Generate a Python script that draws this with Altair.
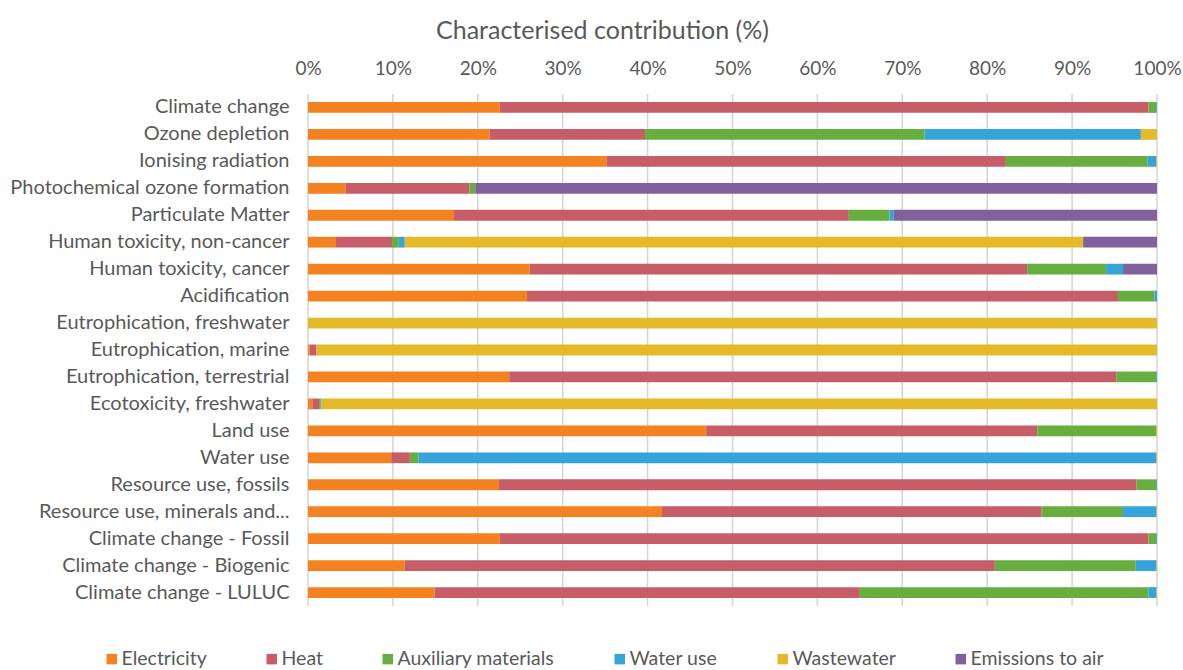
import altair as alt
import pandas as pd

categories = [
    "Climate change", "Ozone depletion", "Ionising radiation",
    "Photochemical ozone formation", "Particulate Matter",
    "Human toxicity, non-cancer", "Human toxicity, cancer", "Acidification",
    "Eutrophication, freshwater", "Eutrophication, marine",
    "Eutrophication, terrestrial", "Ecotoxicity, freshwater", "Land use",
    "Water use", "Resource use, fossils", "Resource use, minerals and...",
    "Climate change - Fossil", "Climate change - Biogenic", "Climate change - LULUC",
]
series = ["Electricity", "Heat", "Auxiliary materials", "Water use", "Wastewater", "Emissions to air"]
colors = ["#F48220", "#C75D66", "#66AF3F", "#35A4DB", "#E4BA2B", "#80619B"]
tick_values = [0, 10, 20, 30, 40, 50, 60, 70, 80, 90, 100]

electricity = [22.6, 21.4, 35.2, 4.4, 17.2, 3.3, 26.1, 25.8, 0, 0.2, 23.7, 0.5, 46.9, 9.8, 22.5, 41.7, 22.6, 11.4, 14.9]
heat = [76.4, 18.3, 47.0, 14.6, 46.5, 6.6, 58.6, 69.6, 0, 0.8, 71.5, 0.8, 39.0, 2.2, 75.1, 44.7, 76.4, 69.5, 50.1]
aux = [0.9, 32.9, 16.7, 0.7, 4.8, 0.8, 9.3, 4.3, 0, 0, 4.7, 0.2, 14.0, 1.0, 2.3, 9.6, 0.9, 16.6, 34.0]
water = [0.1, 25.5, 1.0, 0, 0.5, 0.7, 2.0, 0.3, 0, 0, 0.1, 0.1, 0, 86.9, 0.1, 3.9, 0.1, 2.4, 0.9]
wastewater = [0, 1.9, 0.1, 0, 0, 79.9, 0, 0, 100, 99.0, 0, 98.4, 0.1, 0.1, 0, 0.1, 0, 0.1, 0.1]
emissions = [0, 0, 0, 80.3, 31.0, 8.7, 4.0, 0, 0, 0, 0, 0, 0, 0, 0, 0, 0, 0, 0]

all_values = [electricity, heat, aux, water, wastewater, emissions]
rows = []
for si, (name, vals) in enumerate(zip(series, all_values)):
    for cat, v in zip(categories, vals):
        rows.append({"category": cat, "source": name, "value": v, "order": si})
df = pd.DataFrame(rows)
grid_df = pd.DataFrame({"tick": tick_values})

FONT = "Lato"
GREY = "#595959"

x_scale = alt.Scale(domain=[0, 100], nice=False)
x_axis = alt.Axis(orient="top", values=tick_values,
                  labelExpr="datum.value + '%'", labelFlush=False,
                  title="Characterised contribution (%)",
                  titleFontSize=25, titleColor=GREY, titleFont=FONT, titleFontWeight="normal",
                  titleX=294, titleY=-56, titleAlign="center", titleBaseline="alphabetic",
                  labelFontSize=19, labelColor=GREY, labelFont=FONT, labelPadding=16,
                  domain=False, ticks=False, grid=False)

grid = alt.Chart(grid_df).mark_rule(color="#D3D3D3", strokeWidth=1.5).encode(
    x=alt.X("tick:Q", scale=x_scale, axis=x_axis, title="Characterised contribution (%)")
)

bars = alt.Chart(df).mark_bar().encode(
    y=alt.Y("category:N", sort=categories,
            scale=alt.Scale(paddingInner=0.6, paddingOuter=0.3),
            axis=alt.Axis(title=None, labelFontSize=20, labelColor=GREY, labelFont=FONT,
                          labelPadding=19, domain=False, ticks=False, labelLimit=400)),
    x=alt.X("value:Q", stack="zero", scale=x_scale, axis=x_axis,
            title="Characterised contribution (%)"),
    color=alt.Color("source:N", scale=alt.Scale(domain=series, range=colors),
                    legend=alt.Legend(title=None, orient="none", direction="horizontal",
                                      legendX=-206, legendY=555,
                                      symbolType="square", symbolSize=110, symbolStrokeWidth=0,
                                      labelFontSize=19.5, labelColor=GREY, labelFont=FONT,
                                      columnPadding=55, labelOffset=0)),
    order=alt.Order("order:Q", sort="ascending"),
)

chart = alt.layer(grid, bars).properties(
    width=849, height=512,
    padding={"left": 308, "top": 94, "right": 26, "bottom": 64},
    autosize=alt.AutoSizeParams(type="none"),
).configure_view(stroke=None)

chart.save("out.html", embed_options={"renderer": "svg", "actions": False})
